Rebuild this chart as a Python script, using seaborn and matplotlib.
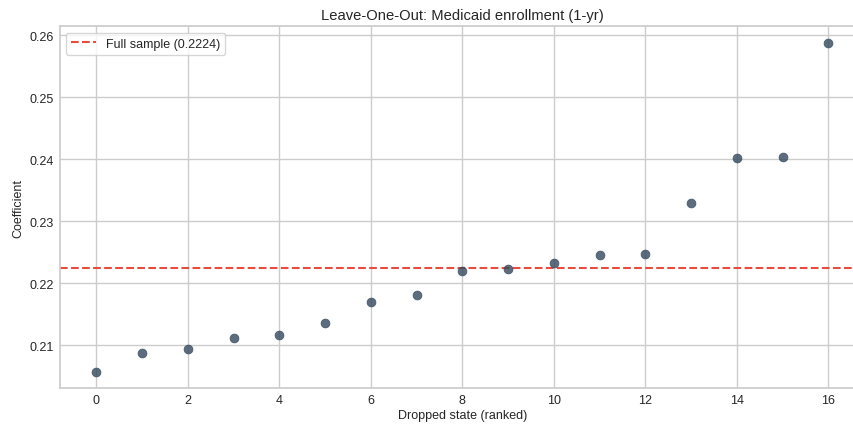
import matplotlib
matplotlib.use("Agg")
import matplotlib.pyplot as plt
import seaborn as sns
import pandas as pd

# Leave-one-out estimates, ordered by size of the coefficient
dropped_rank = list(range(17))
coefficients = [0.2057, 0.2088, 0.2094, 0.2112, 0.2116, 0.2135, 0.2169, 0.2181,
                0.2220, 0.2223, 0.2232, 0.2246, 0.2247, 0.2330, 0.2402, 0.2404,
                0.2588]
full_sample = 0.2224

sns.set_theme(style="whitegrid")
plt.rcParams["font.family"] = ["Liberation Sans", "DejaVu Sans"]

df = pd.DataFrame({"rank": dropped_rank, "coef": coefficients})

fig = plt.figure(figsize=(8.54, 4.31), dpi=100)
ax = fig.add_axes([0.0699, 0.0968, 0.943, 0.8399])

sns.scatterplot(data=df, x="rank", y="coef", ax=ax, s=40, color="#34495e",
                alpha=0.8, edgecolor="#34495e", linewidth=0.6, zorder=3)
ax.axhline(full_sample, color="#e74c3c", linestyle="--", linewidth=1.5,
           label=f"Full sample ({full_sample:.4f})", zorder=2)

ax.set_xticks(range(0, 17, 2))
ax.set_title("Leave-One-Out: Medicaid enrollment (1-yr)", fontsize=10.6, pad=5)
ax.set_xlabel("Dropped state (ranked)", fontsize=9, labelpad=2)
ax.set_ylabel("Coefficient", fontsize=9, labelpad=4)
ax.tick_params(labelsize=9, length=0, pad=4)
ax.legend(loc="upper left", fontsize=9)

fig.savefig("out.png", dpi=100)
